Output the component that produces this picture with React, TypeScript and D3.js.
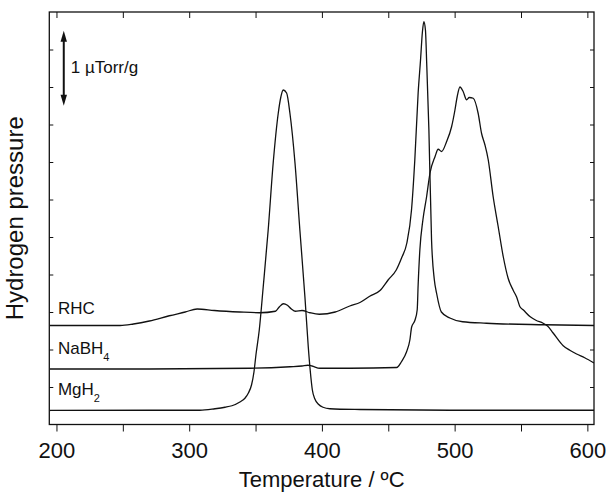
import React, { useEffect, useRef } from "react";
import * as d3 from "d3";

// [temperature °C, hydrogen pressure in µTorr/g incl. offset]
const rhc: [number, number][] = [
  [195, 1.32], [248, 1.32], [258, 1.34], [270, 1.38], [285, 1.45], [297, 1.5],
  [306, 1.54], [319, 1.52], [338, 1.5], [353, 1.49], [365, 1.51], [368, 1.57],
  [371, 1.61], [374, 1.59], [377, 1.54], [380, 1.51], [385, 1.52], [391, 1.49],
  [398, 1.47], [410, 1.5], [421, 1.58], [429, 1.63], [436, 1.71], [444, 1.79],
  [450, 1.93], [456, 2.06], [460, 2.22], [464, 2.42], [467.5, 2.86], [470, 3.53],
  [472.5, 4.42], [474.3, 4.86], [475.7, 5.23], [476.8, 5.37], [478, 5.26],
  [479, 4.79], [480.6, 3.93], [482.6, 2.46], [484.7, 1.93], [486.4, 1.75],
  [490, 1.5], [496.4, 1.42], [506, 1.37], [524, 1.35], [568, 1.33], [605, 1.32],
];

const nabh4: [number, number][] = [
  [195, 0.74], [270, 0.74], [346, 0.75], [376, 0.77], [385, 0.78], [389.5, 0.79],
  [392.5, 0.78], [398.5, 0.75], [421, 0.75], [456.3, 0.76], [460, 0.84],
  [463.8, 0.97], [466.3, 1.13], [467.6, 1.3], [470.1, 1.39], [471.8, 1.53],
  [472.5, 1.86], [473.8, 2.33], [476.1, 2.73], [478.9, 3.04], [481.4, 3.35],
  [485.2, 3.57], [487.6, 3.67], [490.2, 3.64], [493.9, 3.77], [497.7, 3.97],
  [500.2, 4.19], [501.9, 4.37], [504, 4.5], [506.4, 4.44], [509, 4.33],
  [511, 4.36], [514, 4.35], [517.7, 4.15], [520.3, 3.88], [522.8, 3.73],
  [525.3, 3.53], [529, 3.04], [532.8, 2.64], [536.6, 2.24], [540.3, 1.95],
  [544.1, 1.79], [546.7, 1.7], [549.2, 1.57], [551.6, 1.53], [556.7, 1.44],
  [561.2, 1.39], [566.7, 1.35], [570.2, 1.31], [574.2, 1.22], [581.8, 1.05],
  [586.8, 0.99], [591.9, 0.94], [598, 0.89], [605, 0.82],
];

const mgh2: [number, number][] = [
  [195, 0.187], [270, 0.19], [308, 0.19], [319.4, 0.21], [327, 0.23], [332.2, 0.25],
  [338.2, 0.3], [342, 0.35], [344.6, 0.42], [347, 0.53], [348.8, 0.7], [350.3, 0.93],
  [352.8, 1.26], [355.8, 1.84], [359.5, 2.59], [363.3, 3.49], [367.1, 4.15],
  [369.1, 4.37], [370.8, 4.46], [373.4, 4.42], [375.9, 4.15], [379.7, 3.49],
  [383.4, 2.59], [387.2, 1.7], [389.7, 1.04], [391.3, 0.7], [392.8, 0.46],
  [394.7, 0.34], [397.4, 0.27], [400.8, 0.23], [406, 0.21], [428.6, 0.2],
  [496.4, 0.19], [605, 0.19],
];

const seriesNames = ["RHC", "NaBH", "MgH"];
const seriesSubs = ["", "4", "2"];
const labelLevels = [1.47, 0.94, 0.39];

const xTicks = [200, 250, 300, 350, 400, 450, 500, 550, 600];
const xLabels = [200, 300, 400, 500, 600];
const yTicks = [0.5, 1, 1.5, 2, 2.5, 3, 3.5, 4, 4.5, 5];

const W = 606;
const H = 492;
const font = "'Liberation Sans', Arial, sans-serif";

export default function App() {
  const ref = useRef<SVGSVGElement>(null);

  useEffect(() => {
    const svg = d3.select(ref.current);
    svg.selectAll("*").remove();

    const left = 49.3, right = 594, top = 12, bottom = 424.5;
    const x = d3.scaleLinear().domain([194.6, 605]).range([left, right]);
    const y = d3.scaleLinear().domain([0, 5.5]).range([bottom, top]);

    svg.append("clipPath").attr("id", "plot-clip")
      .append("rect")
      .attr("x", left).attr("y", top)
      .attr("width", right - left).attr("height", bottom - top);

    const line = d3.line<[number, number]>()
      .x(d => x(d[0]))
      .y(d => y(d[1]))
      .curve(d3.curveMonotoneX);

    const plot = svg.append("g").attr("clip-path", "url(#plot-clip)");
    [rhc, nabh4, mgh2].forEach(s => {
      plot.append("path")
        .attr("d", line(s))
        .attr("fill", "none")
        .attr("stroke", "#111")
        .attr("stroke-width", 1.3);
    });

    // axes
    const styleAxis = (g: any) => {
      g.select(".domain").remove();
      g.selectAll(".tick line").attr("stroke", "#111").attr("stroke-width", 1);
    };

    const gx = svg.append("g")
      .attr("transform", `translate(0,${bottom})`)
      .call(d3.axisBottom(x).tickValues(xTicks).tickSize(7)
        .tickFormat(d => (xLabels.includes(+d) ? String(d) : "")))
      .call(styleAxis);
    gx.selectAll(".tick text")
      .attr("y", 33.5).attr("dy", null)
      .attr("fill", "#111")
      .style("font-size", "22px")
      .style("font-family", font);

    svg.append("g")
      .attr("transform", `translate(0,${top})`)
      .call(d3.axisTop(x).tickValues(xTicks).tickSize(-6).tickFormat(() => ""))
      .call(styleAxis);

    svg.append("g")
      .attr("transform", `translate(${left},0)`)
      .call(d3.axisLeft(y).tickValues(yTicks).tickSize(-4).tickFormat(() => ""))
      .call(styleAxis);

    svg.append("g")
      .attr("transform", `translate(${right},0)`)
      .call(d3.axisRight(y).tickValues(yTicks).tickSize(-4).tickFormat(() => ""))
      .call(styleAxis);

    svg.append("rect")
      .attr("x", left).attr("y", top)
      .attr("width", right - left).attr("height", bottom - top)
      .attr("fill", "none").attr("stroke", "#111").attr("stroke-width", 1.3);

    // axis titles
    svg.append("text")
      .attr("x", (left + right) / 2).attr("y", 487)
      .attr("text-anchor", "middle")
      .style("font-size", "22px").style("font-family", font)
      .attr("fill", "#111")
      .text("Temperature / ºC");

    svg.append("text")
      .attr("transform", `translate(23,${(top + bottom) / 2}) rotate(-90)`)
      .attr("text-anchor", "middle")
      .style("font-size", "24px").style("font-family", font)
      .attr("fill", "#111")
      .text("Hydrogen pressure");

    // series labels
    seriesNames.forEach((name, i) => {
      const t = svg.append("text")
        .attr("x", x(201.1)).attr("y", y(labelLevels[i]))
        .style("font-size", "17px").style("font-family", font)
        .attr("fill", "#111")
        .text(name);
      if (seriesSubs[i]) {
        t.append("tspan")
          .attr("dy", 7)
          .style("font-size", "11px")
          .text(seriesSubs[i]);
      }
    });

    // scale arrow: 1 µTorr/g
    const ax = x(205.5);
    const a0 = y(5.25), a1 = y(4.25);
    svg.append("line")
      .attr("x1", ax).attr("x2", ax)
      .attr("y1", a0 + 8).attr("y2", a1 - 8)
      .attr("stroke", "#111").attr("stroke-width", 2);
    svg.append("path")
      .attr("d", `M${ax},${a0} L${ax - 3.2},${a0 + 11} L${ax + 3.2},${a0 + 11} Z`)
      .attr("fill", "#111");
    svg.append("path")
      .attr("d", `M${ax},${a1} L${ax - 3.2},${a1 - 11} L${ax + 3.2},${a1 - 11} Z`)
      .attr("fill", "#111");
    svg.append("text")
      .attr("x", ax + 7).attr("y", (a0 + a1) / 2 + 5)
      .style("font-size", "17px").style("font-family", font)
      .attr("fill", "#111")
      .text("1 µTorr/g");
  }, []);

  return (
    <svg
      ref={ref}
      width={W}
      height={H}
      style={{ position: "absolute", left: 0, top: 0, background: "#fff" }}
    />
  );
}
